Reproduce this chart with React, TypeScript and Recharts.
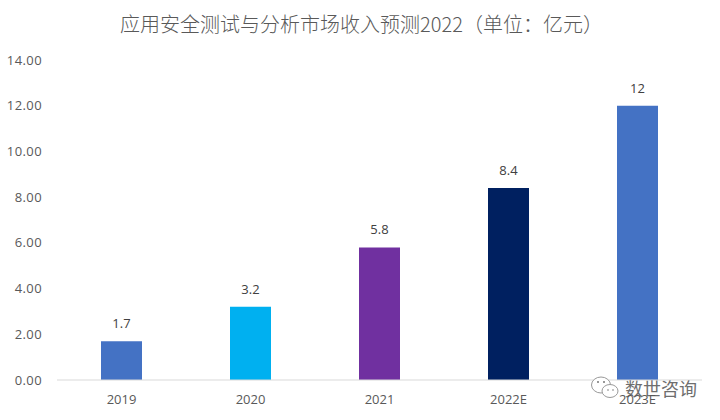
import { BarChart, Bar, Cell, XAxis, YAxis, LabelList } from "recharts";

const years = ["2019", "2020", "2021", "2022E", "2023E"];
const revenue = [1.7, 3.2, 5.8, 8.4, 12];
const barColors = ["#4472C4", "#00B0F0", "#7030A0", "#002060", "#4472C4"];
const yTicks = [0, 2, 4, 6, 8, 10, 12, 14];

const chartData = years.map((year, i) => ({ year, revenue: revenue[i] }));
const font = "'Open Sans', 'Noto Sans', sans-serif";

function WeChatMark() {
    return (
        <svg width={32} height={26} style={{ position: "absolute", left: 590, top: 374 }}>
            <ellipse cx={11} cy={11} rx={9.5} ry={8} fill="#fff" stroke="#999" strokeWidth={1} />
            <ellipse cx={20} cy={17} rx={8} ry={6.5} fill="#fff" stroke="#999" strokeWidth={1} />
            <circle cx={8} cy={8} r={1} fill="#777" />
            <circle cx={14} cy={8} r={1} fill="#777" />
            <circle cx={18} cy={16} r={0.8} fill="#777" />
            <circle cx={23} cy={16} r={0.8} fill="#777" />
        </svg>
    );
}

export default function App() {
    return (
        <div style={{ position: "absolute", left: 0, top: 0, width: 720, height: 420, background: "#fff", overflow: "hidden" }}>
            <div
                style={{
                    position: "absolute",
                    left: 6,
                    top: 9,
                    width: 711,
                    textAlign: "center",
                    fontFamily: "'Noto Sans CJK SC', sans-serif",
                    fontSize: 20,
                    fontWeight: 300,
                    lineHeight: "30px",
                    color: "#595959",
                }}
            >
                应用安全测试与分析市场收入预测2022（单位：亿元）
            </div>
            <BarChart width={720} height={420} data={chartData} margin={{ top: 60, right: 18, left: 0, bottom: 10 }} barSize={41}>
                <XAxis
                    dataKey="year"
                    height={30}
                    axisLine={{ stroke: "#D9D9D9", strokeWidth: 1 }}
                    tickLine={false}
                    tick={{ fill: "#595959", fontSize: 13, fontFamily: font }}
                    tickMargin={9}
                />
                <YAxis
                    width={57}
                    domain={[0, 14]}
                    ticks={yTicks}
                    tickFormatter={(v: number) => v.toFixed(2)}
                    axisLine={false}
                    tickLine={false}
                    tick={{ fill: "#595959", fontSize: 13, fontFamily: font, letterSpacing: 0.4 }}
                    tickMargin={9}
                />
                <Bar dataKey="revenue" isAnimationActive={false}>
                    {chartData.map((d, i) => (
                        <Cell key={d.year} fill={barColors[i]} />
                    ))}
                    <LabelList dataKey="revenue" position="top" offset={13} fill="#404040" fontSize={13} fontFamily={font} />
                </Bar>
            </BarChart>
            <WeChatMark />
            <div
                style={{
                    position: "absolute",
                    left: 625,
                    top: 375,
                    fontFamily: "'Noto Sans CJK SC', sans-serif",
                    fontSize: 18,
                    lineHeight: "26px",
                    color: "#555",
                    opacity: 0.85,
                    whiteSpace: "nowrap",
                }}
            >
                数世咨询
            </div>
        </div>
    );
}
